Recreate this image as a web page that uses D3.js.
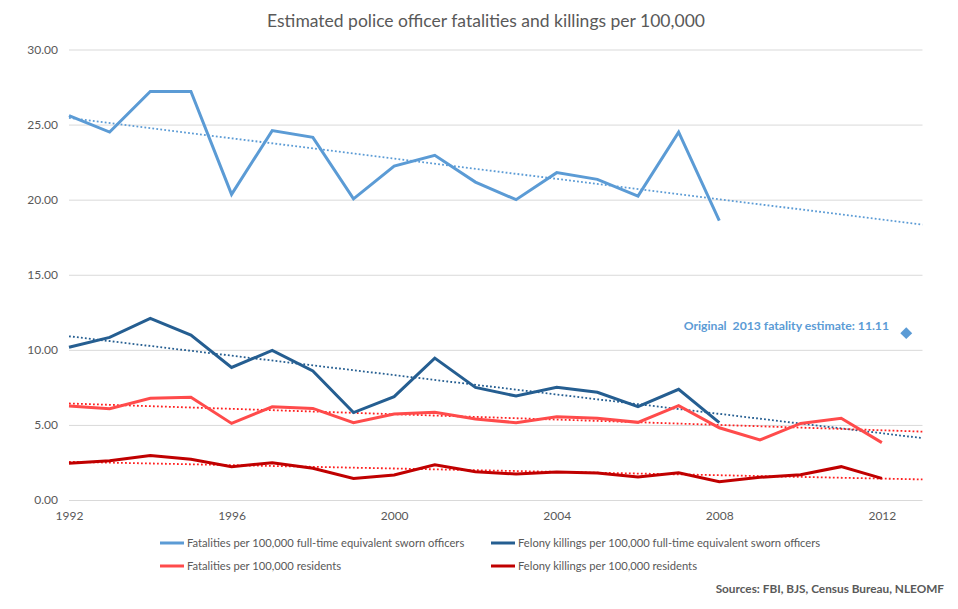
<!DOCTYPE html>
<html><head><meta charset="utf-8">
<script src="https://cdn.jsdelivr.net/npm/d3@7"></script>
<style>body{margin:0;background:#fff}svg{display:block;font-family:Lato,"Open Sans",sans-serif}</style>
</head><body><svg id="c" width="958" height="609"></svg>
<script>
const titleText = "Estimated police officer fatalities and killings per 100,000";
const yearsOfficers = d3.range(1992, 2009);
const yearsResidents = d3.range(1992, 2013);
const fatalOfficers = [25.6,24.5,27.2,27.2,20.35,24.6,24.15,20.05,22.24,22.95,21.17,20.0,21.8,21.35,20.24,24.5,18.6];
const felonyOfficers = [10.17,10.83,12.1,10.98,8.83,9.96,8.59,5.82,6.88,9.45,7.5,6.92,7.5,7.17,6.21,7.37,5.15];
const fatalResidents = [6.26,6.08,6.77,6.84,5.1,6.21,6.1,5.15,5.73,5.84,5.39,5.15,5.55,5.44,5.17,6.28,4.81,4.0,5.1,5.44,3.82];
const felonyResidents = [2.44,2.62,2.97,2.71,2.22,2.48,2.11,1.44,1.66,2.35,1.88,1.73,1.86,1.8,1.53,1.82,1.22,1.51,1.68,2.22,1.44];
const seriesNames = ["Fatalities per 100,000 full-time equivalent sworn officers","Felony killings per 100,000 full-time equivalent sworn officers","Fatalities per 100,000 residents","Felony killings per 100,000 residents"];
const seriesColors = ["#5B9BD5","#255E91","#FF4B4B","#C00000"];
const trendColors = ["#5B9BD5","#255E91","#FF2020","#FF2020"];
const yTicks = [0,5,10,15,20,25,30];
const xTicks = [1992,1996,2000,2004,2008,2012];
const estimateYear = [2012.6];
const estimateValue = [11.11];
const estimateLabel = "Original  2013 fatality estimate: 11.11";
const sourcesText = "Sources: FBI, BJS, Census Bureau, NLEOMF";

const series = [
  {name: seriesNames[0], years: yearsOfficers, values: fatalOfficers},
  {name: seriesNames[1], years: yearsOfficers, values: felonyOfficers},
  {name: seriesNames[2], years: yearsResidents, values: fatalResidents},
  {name: seriesNames[3], years: yearsResidents, values: felonyResidents}
];

const svg = d3.select("#c");
const x = d3.scaleLinear().domain([1992, 2013]).range([69, 922.5]);
const y = d3.scaleLinear().domain([0, 30]).range([500, 49.5]);

svg.append("text").attr("x", 486).attr("y", 27).attr("text-anchor","middle")
  .attr("font-size", 17.5).attr("fill", "#595959").text(titleText);

const yAxis = d3.axisLeft(y).tickValues(yTicks).tickFormat(d3.format(".2f"))
  .tickSize(-(x.range()[1]-x.range()[0])).tickPadding(11);
const gy = svg.append("g").attr("transform", `translate(${x.range()[0]},0)`).call(yAxis);
gy.select(".domain").remove();
gy.selectAll(".tick line").attr("stroke", "#D9D9D9").attr("stroke-width", 1);
gy.selectAll(".tick text").attr("fill", "#595959").attr("font-size", 12).attr("font-family","Lato,sans-serif");

const xAxis = d3.axisBottom(x).tickValues(xTicks).tickFormat(d3.format("d")).tickSize(0).tickPadding(11);
const gx = svg.append("g").attr("transform", `translate(0,${y(0)})`).call(xAxis);
gx.select(".domain").remove();
gx.selectAll(".tick text").attr("fill", "#595959").attr("font-size", 12).attr("font-family","Lato,sans-serif");

const line = d3.line().x(d => x(d[0])).y(d => y(d[1]));

series.forEach((s, i) => {
  const n = s.years.length;
  const mx = d3.mean(s.years), my = d3.mean(s.values);
  let num = 0, den = 0;
  for (let k = 0; k < n; k++) { num += (s.years[k]-mx)*(s.values[k]-my); den += (s.years[k]-mx)**2; }
  const b = num/den, a = my - b*mx;
  const pts = [[1992, a + b*1992], [2013, a + b*2013]];
  svg.append("path").attr("d", line(pts)).attr("fill","none")
    .attr("stroke", trendColors[i]).attr("stroke-width", 1.8).attr("stroke-dasharray", "1.8,2.2");
});

series.forEach((s, i) => {
  svg.append("path").attr("d", line(s.years.map((yr, k) => [yr, s.values[k]])))
    .attr("fill","none").attr("stroke", seriesColors[i]).attr("stroke-width", 3)
    .attr("stroke-linejoin","miter");
});

svg.selectAll(".est").data(estimateYear).enter().append("path")
  .attr("transform", (d, i) => `translate(${x(d)},${y(estimateValue[i])})`)
  .attr("d", d3.symbol().type(d3.symbolDiamond2).size(90)).attr("fill", "#5B9BD5");
svg.append("text").attr("x", 889).attr("y", 330).attr("text-anchor","end")
  .attr("font-size", 12.2).attr("font-weight", "bold").attr("fill", "#5B9BD5")
  .style("white-space","pre").text(estimateLabel);

const legPos = [[160,543],[491,543],[160,566],[491,566]];
series.forEach((s, i) => {
  const [lx, ly] = legPos[i];
  svg.append("line").attr("x1", lx).attr("x2", lx+24).attr("y1", ly).attr("y2", ly)
    .attr("stroke", seriesColors[i]).attr("stroke-width", 3);
  svg.append("text").attr("x", lx+27).attr("y", ly+4).attr("font-size", 11.2)
    .attr("fill", "#595959").text(s.name);
});

svg.append("text").attr("x", 944).attr("y", 593).attr("text-anchor","end")
  .attr("font-size", 11.8).attr("font-weight","bold").attr("fill","#595959").text(sourcesText);
</script></body></html>
